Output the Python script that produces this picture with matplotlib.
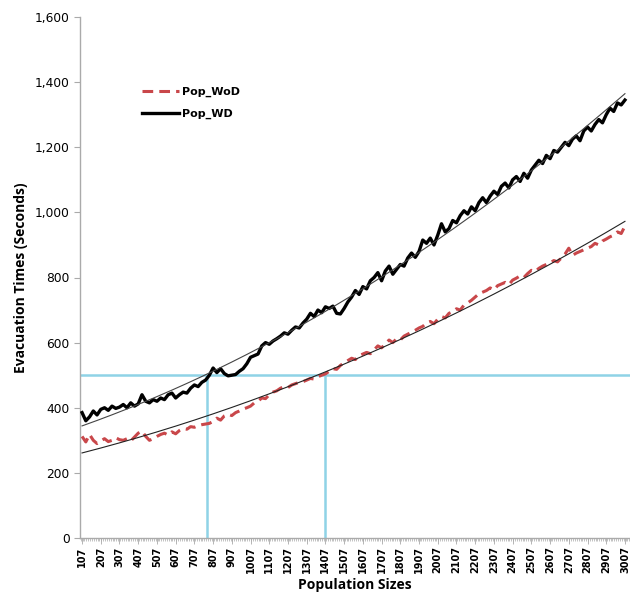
import numpy as np
import matplotlib
matplotlib.use("Agg")
import matplotlib.pyplot as plt
from matplotlib.ticker import MultipleLocator, FuncFormatter

# population sizes, every 20 from 107 to 3007
pop = list(range(107, 3008, 20))

# evacuation times with disabled people (Pop_WD)
pop_wd = [385, 360, 372, 390, 378, 395, 400, 392, 405, 398,
          402, 410, 400, 415, 405, 412, 440, 420, 415, 425,
          420, 430, 425, 440, 445, 430, 440, 448, 445, 460,
          470, 465, 478, 485, 500, 522, 508, 520, 505, 498,
          500, 502, 512, 520, 535, 555, 560, 565, 590, 600,
          595, 605, 612, 620, 630, 626, 638, 648, 645, 660,
          672, 690, 680, 700, 692, 710, 705, 712, 690, 688,
          705, 725, 740, 760, 748, 772, 765, 790, 800, 815,
          790, 820, 835, 810, 825, 840, 835, 860, 875, 862,
          880, 915, 905, 921, 900, 930, 965, 940, 950, 975,
          968, 990, 1005, 995, 1017, 1005, 1030, 1045, 1030, 1050,
          1065, 1055, 1080, 1090, 1075, 1100, 1110, 1095, 1120, 1105,
          1130, 1145, 1160, 1150, 1175, 1165, 1190, 1185, 1200, 1215,
          1205, 1225, 1235, 1220, 1250, 1262, 1250, 1270, 1285, 1275,
          1300, 1320, 1310, 1336, 1330, 1345]

# evacuation times without disabled people (Pop_WoD)
pop_wod = [312, 295, 318, 300, 290, 298, 305, 296, 300, 308,
           302, 300, 305, 298, 310, 322, 328, 312, 300, 305,
           312, 318, 322, 316, 326, 320, 330, 336, 334, 342,
           340, 345, 348, 350, 352, 358, 368, 362, 375, 380,
           376, 385, 390, 396, 400, 405, 415, 420, 430, 428,
           440, 448, 452, 460, 465, 462, 470, 474, 478, 480,
           485, 490, 488, 495, 500, 504, 512, 520, 518, 530,
           538, 545, 552, 548, 560, 565, 570, 566, 578, 590,
           584, 596, 608, 600, 612, 608, 620, 626, 632, 638,
           645, 650, 660, 665, 658, 672, 680, 676, 690, 695,
           704, 700, 715, 722, 730, 740, 750, 755, 760, 768,
           762, 775, 780, 785, 778, 792, 798, 805, 800, 812,
           822, 818, 828, 835, 840, 845, 852, 848, 860, 872,
           890, 868, 875, 880, 885, 890, 895, 905, 900, 912,
           918, 925, 930, 940, 935, 958]

threshold = 500
cross_wd = 777
cross_wod = 1407
xticks = list(range(107, 3008, 100))

x = np.array(pop)
fit_wd = np.poly1d(np.polyfit(x, pop_wd, 2))
fit_wod = np.poly1d(np.polyfit(x, pop_wod, 2))

fig = plt.figure(figsize=(6.3, 6.03), dpi=100)
ax = fig.add_axes([80/630, 65/603, 550/630, 521/603])

cyan = "#8fd3e6"
ax.axhline(threshold, color=cyan, lw=1.8, zorder=1)
ax.vlines([cross_wd, cross_wod], 0, threshold, color=cyan, lw=1.8, zorder=1)

ax.plot(x, pop_wod, color="#c9474a", lw=2.2, ls=(0, (3.5, 2)), label="Pop_WoD", zorder=3)
ax.plot(x, pop_wd, color="black", lw=2.4, label="Pop_WD", zorder=3)
ax.plot(x, fit_wod(x), color="#222222", lw=0.8, zorder=4)
ax.plot(x, fit_wd(x), color="#444444", lw=0.8, zorder=4)

ax.set_xlim(96, 3034)
ax.set_ylim(0, 1600)
ax.set_xticks(xticks)
ax.set_xticklabels([str(v) for v in xticks], rotation=90, fontsize=7, fontweight="bold")
ax.xaxis.set_minor_locator(MultipleLocator(10))
ax.yaxis.set_major_locator(MultipleLocator(200))
ax.yaxis.set_major_formatter(FuncFormatter(lambda v, p: f"{int(v):,}"))
ax.tick_params(axis="y", labelsize=8.8, color="#aaaaaa", length=4, width=0.8)
ax.tick_params(axis="x", which="major", color="#aaaaaa", length=4, width=0.6, pad=2)
ax.tick_params(axis="x", which="minor", color="#aaaaaa", length=2.5, width=0.5)

for s in ["top", "right"]:
    ax.spines[s].set_visible(False)
for s in ["left", "bottom"]:
    ax.spines[s].set_color("#aaaaaa")
    ax.spines[s].set_linewidth(1.0)

ax.set_xlabel("Population Sizes", fontsize=10, fontweight="bold", family=["Open Sans", "DejaVu Sans"], labelpad=3)
ax.set_ylabel("Evacuation Times (Seconds)", fontsize=10, fontweight="bold", family=["Open Sans", "DejaVu Sans"], labelpad=5)

ax.legend(loc="upper left", bbox_to_anchor=(0.095, 0.885), frameon=False,
          handlelength=3.3, handletextpad=0.3, labelspacing=1.05,
          prop={"size": 8, "weight": "bold"})

fig.savefig("out.png", dpi=100)
